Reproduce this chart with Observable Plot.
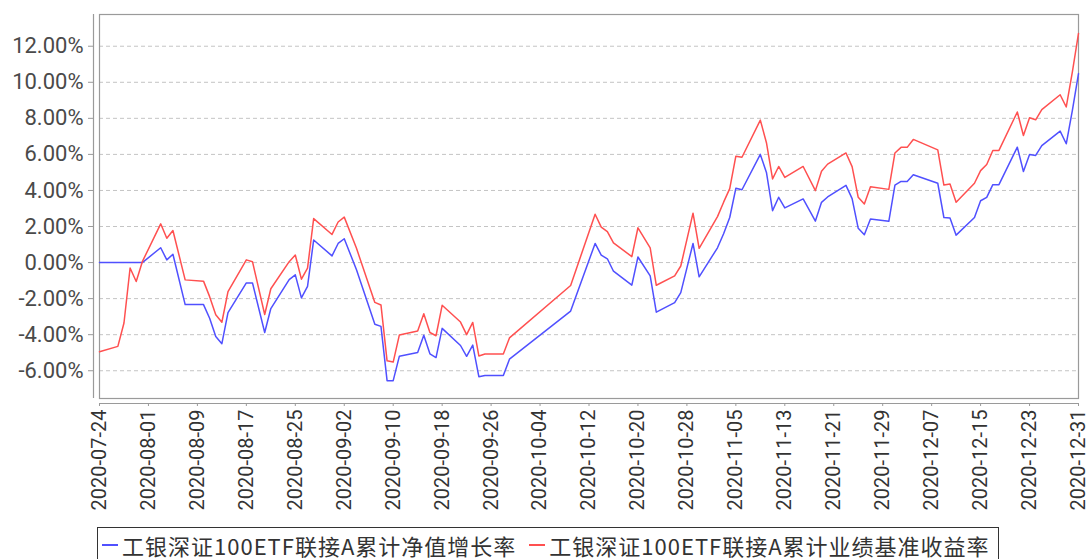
<!DOCTYPE html>
<html>
<head>
<meta charset="utf-8">
<script src="https://cdn.jsdelivr.net/npm/d3@7"></script>
<script src="https://cdn.jsdelivr.net/npm/@observablehq/plot@0.6"></script>
<style>
  html, body { margin: 0; padding: 0; background: #fff; }
  #chart svg { display: block; overflow: visible; }
  #legend {
    position: absolute; left: 97px; top: 527px; width: 902px; height: 40px;
    border: 1px solid #333; box-sizing: border-box;
    font-family: "Noto Sans CJK SC", sans-serif; font-size: 22px; color: #333;
    letter-spacing: 1.0px;
    display: flex; align-items: flex-start; padding-top: 1px; padding-left: 4px;
    white-space: nowrap;
  }
  .item { display: flex; align-items: center; margin-right: 13px; }
  .swatch { width: 16px; height: 2px; margin-right: 4px; }
</style>
</head>
<body>
<div id="chart"></div>
<div id="legend"></div>
<script>
const seriesNames = ["工银深证100ETF联接A累计净值增长率", "工银深证100ETF联接A累计业绩基准收益率"];
const seriesColors = ["#5050ff", "#ff5050"];

const dates = [
  "2020-07-24","2020-07-27","2020-07-28","2020-07-29","2020-07-30","2020-07-31",
  "2020-08-03","2020-08-04","2020-08-05","2020-08-07","2020-08-10","2020-08-11",
  "2020-08-12","2020-08-13","2020-08-14","2020-08-17","2020-08-18","2020-08-20",
  "2020-08-21","2020-08-24","2020-08-25","2020-08-26","2020-08-27","2020-08-28",
  "2020-08-31","2020-09-01","2020-09-02","2020-09-04","2020-09-07","2020-09-08",
  "2020-09-09","2020-09-10","2020-09-11","2020-09-14","2020-09-15","2020-09-16",
  "2020-09-17","2020-09-18","2020-09-21","2020-09-22","2020-09-23","2020-09-24",
  "2020-09-25","2020-09-28","2020-09-29","2020-10-09","2020-10-13","2020-10-14",
  "2020-10-15","2020-10-16","2020-10-19","2020-10-20","2020-10-22","2020-10-23",
  "2020-10-26","2020-10-27","2020-10-29","2020-10-30","2020-11-02","2020-11-03",
  "2020-11-04","2020-11-05","2020-11-06","2020-11-09","2020-11-10","2020-11-11",
  "2020-11-12","2020-11-13","2020-11-16","2020-11-18","2020-11-19","2020-11-20",
  "2020-11-23","2020-11-24","2020-11-25","2020-11-26","2020-11-27","2020-11-30",
  "2020-12-01","2020-12-02","2020-12-03","2020-12-04","2020-12-08","2020-12-09",
  "2020-12-10","2020-12-11","2020-12-14","2020-12-15","2020-12-16","2020-12-17",
  "2020-12-18","2020-12-21","2020-12-22","2020-12-23","2020-12-24","2020-12-25",
  "2020-12-28","2020-12-29","2020-12-30","2020-12-31"
];

const navGrowth = [
  0, 0, 0, 0, 0, 0,
  0.82, 0.15, 0.46, -2.33, -2.33, -3.09,
  -4.10, -4.50, -2.78, -1.13, -1.13, -3.88,
  -2.55, -0.95, -0.68, -1.96, -1.32, 1.25,
  0.37, 1.06, 1.32, -0.40, -3.42, -3.54,
  -6.55, -6.55, -5.20, -4.99, -4.03, -5.06,
  -5.27, -3.65, -4.60, -5.20, -4.58, -6.33,
  -6.26, -6.26, -5.36, -2.69, 1.06, 0.41,
  0.21, -0.48, -1.25, 0.31, -0.74, -2.75,
  -2.22, -1.67, 1.06, -0.79, 0.82, 1.60,
  2.50, 4.12, 4.04, 6.00, 5.00, 2.88,
  3.62, 3.03, 3.53, 2.30, 3.34, 3.64,
  4.28, 3.55, 1.90, 1.54, 2.42, 2.29,
  4.29, 4.50, 4.50, 4.87, 4.40, 2.50,
  2.47, 1.52, 2.50, 3.43, 3.62, 4.32,
  4.32, 6.40, 5.05, 5.99, 5.94, 6.49,
  7.29, 6.59, 8.44, 10.48
];

const benchmark = [
  -4.95, -4.65, -3.35, -0.30, -1.05, 0.05,
  2.15, 1.35, 1.78, -0.96, -1.03, -1.89,
  -2.90, -3.31, -1.61, 0.15, 0.05, -2.88,
  -1.45, 0.05, 0.42, -0.92, -0.31, 2.44,
  1.56, 2.25, 2.52, 0.79, -2.21, -2.35,
  -5.45, -5.52, -4.02, -3.80, -2.84, -3.88,
  -4.06, -2.37, -3.30, -4.00, -3.32, -5.18,
  -5.07, -5.07, -4.18, -1.27, 2.68, 1.97,
  1.72, 1.09, 0.33, 1.93, 0.81, -1.26,
  -0.74, -0.19, 2.74, 0.79, 2.55, 3.35,
  4.10, 5.90, 5.84, 7.90, 6.65, 4.64,
  5.33, 4.72, 5.33, 3.99, 5.06, 5.46,
  6.08, 5.32, 3.62, 3.25, 4.21, 4.06,
  6.08, 6.39, 6.39, 6.83, 6.25, 4.30,
  4.36, 3.34, 4.40, 5.10, 5.44, 6.22,
  6.22, 8.35, 7.05, 8.03, 7.92, 8.48,
  9.31, 8.63, 10.58, 12.71
];

const xTickLabels = [
  "2020-07-24","2020-08-01","2020-08-09","2020-08-17","2020-08-25","2020-09-02",
  "2020-09-10","2020-09-18","2020-09-26","2020-10-04","2020-10-12","2020-10-20",
  "2020-10-28","2020-11-05","2020-11-13","2020-11-21","2020-11-29","2020-12-07",
  "2020-12-15","2020-12-23","2020-12-31"
];
const yTicks = [-6, -4, -2, 0, 2, 4, 6, 8, 10, 12];
const yDomain = [-7.54, 13.76];

const parse = d3.utcParse("%Y-%m-%d");
const fmt = d3.utcFormat("%Y-%m-%d");
const rows = [];
dates.forEach((d, i) => {
  rows.push({date: parse(d), value: navGrowth[i], series: seriesNames[0]});
});
dates.forEach((d, i) => {
  rows.push({date: parse(d), value: benchmark[i], series: seriesNames[1]});
});
const xTicks = xTickLabels.map(parse);
const xDomain = [parse(dates[0]), parse(dates[dates.length - 1])];

const chart = Plot.plot({
  width: 1088,
  height: 520,
  marginLeft: 99,
  marginRight: 10,
  marginTop: 14,
  marginBottom: 122,
  style: {fontFamily: "Roboto, sans-serif", color: "#444", background: "#fff"},
  x: {type: "utc", domain: xDomain, label: null},
  y: {domain: yDomain, label: null},
  color: {domain: seriesNames, range: seriesColors},
  marks: [
    Plot.gridY(yTicks, {stroke: "#c4c4c4", strokeOpacity: 1, strokeDasharray: "4,3"}),
    Plot.frame({stroke: "#9a9a9a", strokeWidth: 1.2}),
    Plot.ruleX([xDomain[0]], {dx: -6, stroke: "#9a9a9a", strokeWidth: 1.2}),
    Plot.ruleY([yDomain[0]], {dy: 5, stroke: "#9a9a9a", strokeWidth: 1.2}),
    Plot.axisY(yTicks, {
      dx: -6, tickSize: 5, tickPadding: 5, fontSize: 22, stroke: "#9a9a9a",
      fill: "#4a4a4a", label: null, tickFormat: d => d.toFixed(2) + "%"
    }),
    Plot.axisX(xTicks, {
      dy: 5, tickSize: 3, tickPadding: 3, tickRotate: -90, fontSize: 20,
      stroke: "#9a9a9a", fill: "#333", label: null, tickFormat: d => fmt(d)
    }),
    Plot.line(rows, {x: "date", y: "value", z: "series", stroke: "series", strokeWidth: 1.5})
  ]
});
document.getElementById("chart").appendChild(chart);

const legend = document.getElementById("legend");
seriesNames.forEach((name, i) => {
  const item = document.createElement("div");
  item.className = "item";
  const sw = document.createElement("div");
  sw.className = "swatch";
  sw.style.background = seriesColors[i];
  const label = document.createElement("span");
  label.textContent = name;
  item.appendChild(sw);
  item.appendChild(label);
  legend.appendChild(item);
});
</script>
</body>
</html>
